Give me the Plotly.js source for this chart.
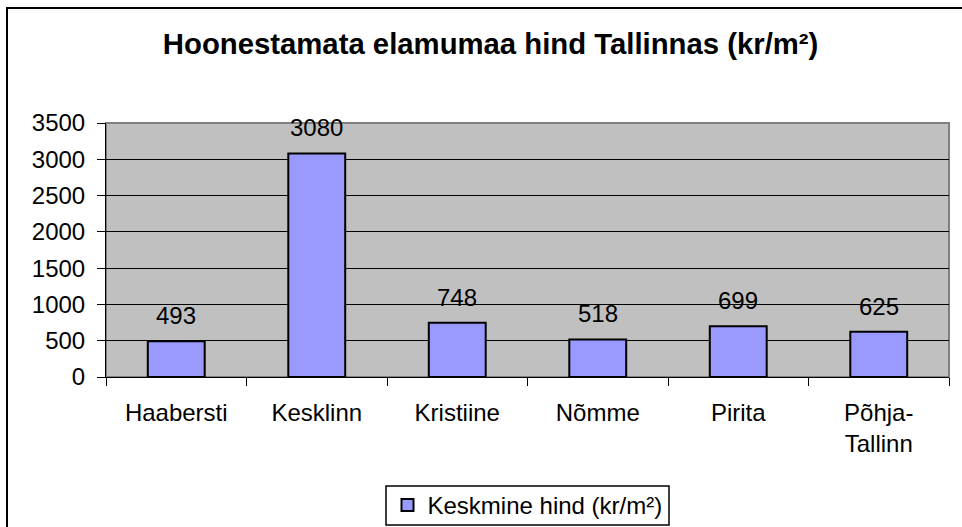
<!DOCTYPE html>
<html>
<head>
<meta charset="utf-8">
<script src="https://cdn.plot.ly/plotly-3.0.1.min.js"></script>
<style>
  html, body { margin: 0; padding: 0; background: #ffffff; overflow: hidden; }
  #frame { position: absolute; left: 6px; top: 7px; width: 1000px; height: 600px;
           border-left: 2px solid #000; border-top: 2px solid #000; }
  #chart { position: absolute; left: 0; top: 0; width: 962px; height: 527px; }
</style>
</head>
<body>
<div id="frame"></div>
<div id="chart"></div>
<script>
const titleText = "Hoonestamata elamumaa hind Tallinnas (kr/m²)";
const categories = ["Haabersti", "Kesklinn", "Kristiine", "Nõmme", "Pirita", "Põhja-<br>Tallinn"];
const values = [493, 3080, 748, 518, 699, 625];
const seriesName = "Keskmine hind (kr/m²)";
const yTicks = [0, 500, 1000, 1500, 2000, 2500, 3000, 3500];

const FONT = "Liberation Sans, Arial, sans-serif";

const trace = {
  type: "bar",
  x: categories,
  y: values,
  name: seriesName,
  width: 0.405,
  marker: { color: "#9999ff", line: { color: "#000000", width: 2 } },
  hoverinfo: "x+y",
  showlegend: true
};

const annotations = categories.map((c, i) => ({
  x: c, y: values[i], xref: "x", yref: "y",
  text: String(values[i]), showarrow: false,
  yanchor: "bottom", yshift: 10,
  font: { family: FONT, size: 24, color: "#000" }
}));

// plot area in pixels: left 106, right 949, top 123, bottom 377
const layout = {
  width: 962, height: 527,
  margin: { l: 106, r: 13, t: 123, b: 150, autoexpand: false },
  paper_bgcolor: "rgba(0,0,0,0)",
  plot_bgcolor: "#c0c0c0",
  font: { family: FONT, size: 24, color: "#000" },
  title: {
    text: "<b>" + titleText + "</b>",
    font: { family: FONT, size: 29.3, color: "#000" },
    x: 0.51, xref: "container", xanchor: "center",
    y: 1 - 44 / 527, yref: "container", yanchor: "middle"
  },
  xaxis: {
    type: "category",
    tickson: "boundaries",
    ticks: "outside", ticklen: 8, tickwidth: 1, tickcolor: "#000",
    showline: true, linecolor: "#000", linewidth: 1,
    showgrid: false, zeroline: false,
    ticklabelstandoff: 14,
    tickfont: { family: FONT, size: 24, color: "#000" },
    range: [-0.5, 5.5], fixedrange: true, automargin: false
  },
  yaxis: {
    range: [0, 3500],
    tickvals: yTicks, ticktext: yTicks.map(String),
    ticks: "outside", ticklen: 8, tickwidth: 1, tickcolor: "#000",
    showline: true, linecolor: "#000", linewidth: 1,
    showgrid: true, gridcolor: "#000", gridwidth: 1,
    zeroline: false,
    ticklabelstandoff: 7,
    tickfont: { family: FONT, size: 24, color: "#000" },
    fixedrange: true, automargin: false
  },
  shapes: [
    {
      type: "rect", xref: "paper", yref: "paper", x0: 0, x1: 1, y0: 0, y1: 1,
      line: { color: "#808080", width: 2 }, fillcolor: "rgba(0,0,0,0)", layer: "below"
    },
    {
      // legend frame
      type: "rect", xref: "paper", yref: "paper",
      x0: (386 - 106) / 843, x1: (669 - 106) / 843,
      y0: (377 - 525) / 254, y1: (377 - 486) / 254,
      line: { color: "#000", width: 1.5 }, fillcolor: "rgba(0,0,0,0)", layer: "above"
    }
  ],
  annotations: annotations,
  showlegend: true,
  legend: {
    orientation: "h",
    x: 0.5, xanchor: "center", xref: "paper",
    y: 1 - 505.5 / 527, yanchor: "middle", yref: "container",
    bgcolor: "rgba(0,0,0,0)", borderwidth: 0,
    font: { family: FONT, size: 24, color: "#000" }
  },
  bargap: 0.6
};

Plotly.newPlot("chart", [trace], layout, { displayModeBar: false, staticPlot: true });
</script>
</body>
</html>
